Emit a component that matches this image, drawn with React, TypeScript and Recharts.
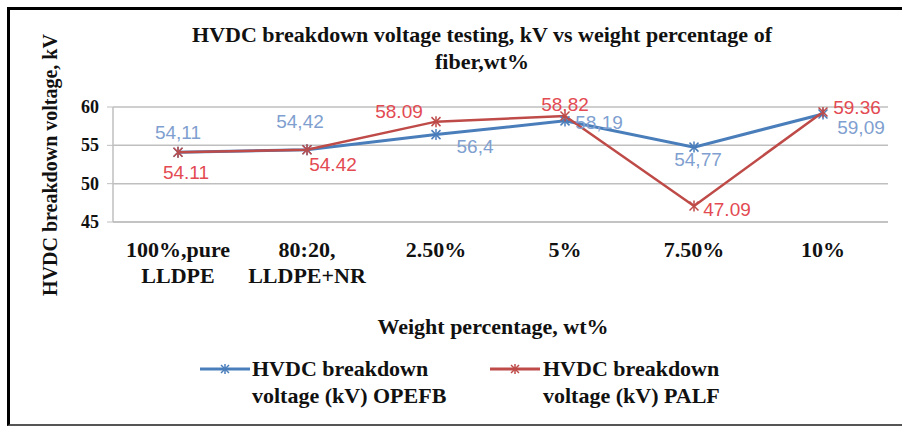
import React from 'react'
import {
  LineChart,
  Line,
  XAxis,
  YAxis,
  CartesianGrid,
  LabelList,
  Label,
} from 'recharts'

// categories on the x axis (line break inside the tick label)
const categories = ['100%,pure\nLLDPE', '80:20,\nLLDPE+NR', '2.50%', '5%', '7.50%', '10%']
const opefbValues = [54.11, 54.42, 56.4, 58.19, 54.77, 59.09]
const palfValues = [54.11, 54.42, 58.09, 58.82, 47.09, 59.36]
const yTicks = [45, 50, 55, 60]

const data = categories.map((c, i) => ({
  cat: c,
  opefb: opefbValues[i],
  palf: palfValues[i],
}))

// label placement relative to each point (dx, dy of text centre)
const opefbLabelOffsets = [
  [0, -19], [-7, -28], [39, 12], [34, 2], [4, 13], [38, 14],
]
const palfLabelOffsets = [
  [8, 21], [26, 15], [-37, -10], [0, -11], [33, 4], [34, -4],
]

const BLUE = '#4a7ebb'
const RED = '#be4b48'
const BLUE_LABEL = '#7f9fd0'
const RED_LABEL = '#e34a52'
const SERIF = '"Liberation Serif", "Times New Roman", serif'
const SANS = '"Liberation Sans", Arial, sans-serif'

const StarDot = (color: string) => (props: any) => {
  const { cx, cy, index } = props
  if (cx == null || cy == null) return null
  const s = 4.5
  return (
    <g key={`dot-${index}`} stroke={color} strokeWidth={1.5}>
      <line x1={cx - s} y1={cy - s} x2={cx + s} y2={cy + s} />
      <line x1={cx - s} y1={cy + s} x2={cx + s} y2={cy - s} />
      <line x1={cx} y1={cy - s - 1} x2={cx} y2={cy + s + 1} />
    </g>
  )
}

const makeLabel = (offsets: number[][], color: string, comma: boolean) => (props: any) => {
  const { x, y, value, index } = props
  const [dx, dy] = offsets[index]
  const txt = comma ? String(value).replace('.', ',') : String(value)
  return (
    <text
      x={x + dx}
      y={y + dy + 6}
      textAnchor="middle"
      fill={color}
      fontFamily={SANS}
      fontSize={19}
    >
      {txt}
    </text>
  )
}

const CategoryTick = (props: any) => {
  const { x, y, payload } = props
  const lines = String(payload.value).split('\n')
  return (
    <g>
      {lines.map((l, i) => (
        <text
          key={i}
          x={x}
          y={y + 27 + i * 26}
          textAnchor="middle"
          fontFamily={SERIF}
          fontWeight="bold"
          fontSize={22}
          fill="#111"
        >
          {l}
        </text>
      ))}
    </g>
  )
}

const ValueTick = (props: any) => {
  const { x, y, payload } = props
  return (
    <text
      x={x - 6}
      y={y + 6}
      textAnchor="end"
      fontFamily={SERIF}
      fontWeight="bold"
      fontSize={18}
      fill="#111"
    >
      {payload.value}
    </text>
  )
}

const legendItems = [
  { color: BLUE, name: 'OPEFB', lineX: 200, textX: 252 },
  { color: RED, name: 'PALF', lineX: 490, textX: 543 },
]

const LegendBlock = () => (
  <div style={{ position: 'absolute', left: 0, top: 355, width: 902, height: 60 }}>
    {legendItems.map((it) => (
      <React.Fragment key={it.name}>
        <svg
          style={{ position: 'absolute', left: it.lineX, top: 5 }}
          width={50}
          height={18}
        >
          <line x1={0} y1={9} x2={50} y2={9} stroke={it.color} strokeWidth={3} />
          <g stroke={it.color} strokeWidth={1.5}>
            <line x1={21} y1={5} x2={29} y2={13} />
            <line x1={21} y1={13} x2={29} y2={5} />
            <line x1={25} y1={4} x2={25} y2={14} />
          </g>
        </svg>
        <div
          style={{
            position: 'absolute',
            left: it.textX,
            top: 0,
            fontFamily: SERIF,
            fontWeight: 'bold',
            fontSize: 22,
            lineHeight: '27px',
            color: '#111',
            whiteSpace: 'nowrap',
          }}
        >
          HVDC breakdown
          <br />
          voltage (kV) {it.name}
        </div>
      </React.Fragment>
    ))}
  </div>
)

export default function App() {
  return (
    <div style={{ position: 'absolute', left: 0, top: 0, width: 902, height: 426, background: '#fff' }}>
      <div
        style={{
          position: 'absolute',
          left: 7,
          top: 7,
          width: 900,
          height: 414,
          borderTop: '3px solid #000',
          borderLeft: '3px solid #000',
          borderBottom: '2px solid #555',
        }}
      />
      <div
        style={{
          position: 'absolute',
          left: 0,
          top: 21,
          width: 964,
          textAlign: 'center',
          fontFamily: SERIF,
          fontWeight: 'bold',
          fontSize: 22,
          lineHeight: '27px',
          color: '#111',
        }}
      >
        HVDC breakdown voltage testing, kV vs weight percentage of
        <br />
        fiber,wt%
      </div>
      <LineChart
        width={902}
        height={426}
        data={data}
        margin={{ top: 107, right: 14, bottom: 0, left: 0 }}
        style={{ position: 'absolute', left: 0, top: 0 }}
      >
        <CartesianGrid vertical={false} stroke="#bfbfbf" strokeWidth={1.5} />
        <XAxis
          dataKey="cat"
          height={204}
          padding={{ left: 65, right: 65 }}
          tickLine={false}
          axisLine={{ stroke: '#bfbfbf', strokeWidth: 1.5 }}
          tick={<CategoryTick />}
          interval={0}
        >
          <Label
            content={() => (
              <text
                x={493}
                y={334}
                textAnchor="middle"
                fontFamily={SERIF}
                fontWeight="bold"
                fontSize={22}
                fill="#111"
              >
                Weight percentage, wt%
              </text>
            )}
          />
        </XAxis>
        <YAxis
          width={113}
          domain={[45, 60]}
          ticks={yTicks}
          allowDataOverflow
          tickSize={6}
          tickLine={{ stroke: '#bfbfbf' }}
          axisLine={{ stroke: '#bfbfbf', strokeWidth: 1.5 }}
          tick={<ValueTick />}
        >
          <Label
            content={() => (
              <text
                x={50}
                y={165}
                transform="rotate(-90 50 165)"
                textAnchor="middle"
                dominantBaseline="central"
                fontFamily={SERIF}
                fontWeight="bold"
                fontSize={20}
                fill="#111"
              >
                HVDC breakdown voltage, kV
              </text>
            )}
          />
        </YAxis>
        <Line
          type="linear"
          dataKey="opefb"
          stroke={BLUE}
          strokeWidth={3}
          dot={StarDot(BLUE)}
          isAnimationActive={false}
        >
          <LabelList dataKey="opefb" content={makeLabel(opefbLabelOffsets, BLUE_LABEL, true)} />
        </Line>
        <Line
          type="linear"
          dataKey="palf"
          stroke={RED}
          strokeWidth={2.5}
          dot={StarDot(RED)}
          isAnimationActive={false}
        >
          <LabelList dataKey="palf" content={makeLabel(palfLabelOffsets, RED_LABEL, false)} />
        </Line>
      </LineChart>
      <LegendBlock />
    </div>
  )
}
